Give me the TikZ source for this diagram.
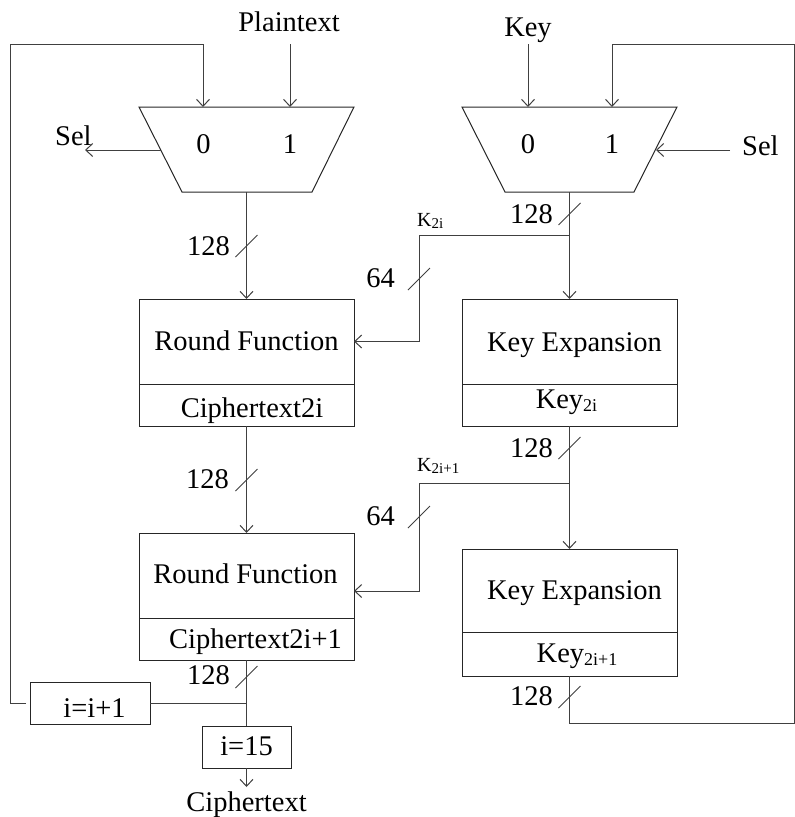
\documentclass[tikz,border=0pt]{standalone}
\usepackage{fontspec}
\setmainfont{Liberation Serif}
\usetikzlibrary{arrows.meta,calc}
\newcommand\bitslash[1]{\draw[slashln] #1 ++(-11,11) -- ++(22,-22);}
\begin{document}
\begin{tikzpicture}[x=1pt,y=-1pt,
  ln/.style={draw=black!75, line width=1pt},
  arr/.style={ln, -{Straight Barb[length=7pt,width=13pt]}},
  blk/.style={draw=black!85, line width=1pt, rectangle, inner sep=0pt, outer sep=0pt},
  txt/.style={font=\fontsize{28.5}{34}\selectfont, inner sep=0pt, anchor=base},
  lbl/.style={font=\fontsize{20}{24}\selectfont, inner sep=0pt, anchor=base west},
  bits/.style={font=\fontsize{28.5}{34}\selectfont, inner sep=0pt, anchor=base east},
  slashln/.style={draw=black!75, line width=0.8pt}]
\useasboundingbox (0,0) rectangle (795,817);

% ---------- multiplexers ----------
\draw[blk] (139,107) -- (354,107) -- (312,192) -- (182,192) -- cycle;
\draw[blk] (462,107) -- (677,107) -- (634,192) -- (505,192) -- cycle;
\coordinate (muxL0) at (203,107);
\coordinate (muxL1) at (290,107);
\coordinate (muxLout) at (246.5,192);
\coordinate (muxLsel) at (160.5,150);
\coordinate (selLtip) at (85,150);
\coordinate (muxR0) at (528,107);
\coordinate (muxR1) at (612,107);
\coordinate (muxRout) at (569.5,192);
\coordinate (muxRsel) at (656,150);
\coordinate (selRstart) at (730,150);
\node[txt] (mL0) at (203.5,153) {0};
\node[txt] (mL1) at (290,153) {1};
\node[txt] (mR0) at (528,153) {0};
\node[txt] (mR1) at (612,153) {1};

% ---------- boxes ----------
\node[blk, minimum width=215pt, minimum height=85pt] (rf1) at (246.5,341.5) {};
\node[blk, minimum width=215pt, minimum height=42pt, anchor=north] (ct1) at (rf1.south) {};
\node[blk, minimum width=215pt, minimum height=85pt] (ke1) at (569.5,341.5) {};
\node[blk, minimum width=215pt, minimum height=42pt, anchor=north] (k1) at (ke1.south) {};
\node[blk, minimum width=215pt, minimum height=85pt] (rf2) at (246.5,575.5) {};
\node[blk, minimum width=215pt, minimum height=42pt, anchor=north] (ct2) at (rf2.south) {};
\node[blk, minimum width=215pt, minimum height=83pt] (ke2) at (569.5,590.5) {};
\node[blk, minimum width=215pt, minimum height=44pt, anchor=north] (k2) at (ke2.south) {};
\node[blk, minimum width=120pt, minimum height=42pt] (iinc) at (90,703) {};
\node[blk, minimum width=89pt, minimum height=42pt] (i15) at (246.5,747) {};

% ---------- box texts ----------
\node[txt] (trf1) at (246.5,350) {Round Function};
\node[txt] (tct1) at (252,417) {Ciphertext2i};
\node[txt] (tke1) at (574.5,351) {Key Expansion};
\node[txt] (tk1) at (566.5,408) {Key\raisebox{-3pt}{\fontsize{18}{20}\selectfont 2i}};
\node[txt] (trf2) at (245.5,583) {Round Function};
\node[txt] (tct2) at (255.5,648) {Ciphertext2i+1};
\node[txt] (tke2) at (574.5,599) {Key Expansion};
\node[txt] (tk2) at (577,662) {Key\raisebox{-3pt}{\fontsize{18}{20}\selectfont 2i+1}};
\node[txt] (tinc) at (94.5,717) {i=i+1};
\node[txt] (ti15) at (246.5,755) {i=15};

% ---------- outer texts ----------
\node[txt] (pt) at (289,31) {Plaintext};
\node[txt] (key) at (528,36) {Key};
\node[txt, anchor=base west] (selL) at (55,145) {Sel};
\node[txt, anchor=base west] (selR) at (742,155) {Sel};
\node[txt] (ctx) at (246.5,811) {Ciphertext};

% ---------- coordinates for connectors ----------
\coordinate (ptstart) at (290,44);
\coordinate (keystart) at (528,44);
\coordinate (br1) at (569.5,235);
\coordinate (c64a) at (419,341.5);
\coordinate (br2) at (569.5,483);
\coordinate (c64b) at (419,591);
\coordinate (br3) at (246.5,703);
\coordinate (lc) at (10,44);
\coordinate (rc) at (794,723);
\coordinate (rt) at (794,44);
\coordinate (ctend) at (246.5,787);

% ---------- connectors ----------
\draw[arr] (ptstart) -- (muxL1);
\draw[arr] (keystart) -- (muxR0);
\draw[arr] (muxLsel) -- (selLtip);
\draw[arr] (selRstart) -- (muxRsel);
\draw[arr] (muxLout) -- (rf1.north);
\draw[arr] (muxRout) -- (ke1.north);
\draw[arr] (br1) -| (c64a) -- (rf1.east);
\draw[arr] (ct1.south) -- (rf2.north);
\draw[arr] (k1.south) -- (ke2.north);
\draw[arr] (br2) -| (c64b) -- (c64b -| rf2.east);
\draw[ln] (ct2.south) -- (i15.north);
\draw[ln] (br3) -- (iinc.east);
\draw[arr] (i15.south) -- (ctend);
\draw[arr, shorten <=4pt] (iinc.west) -| (lc) -| (muxL0);
\draw[arr] (k2.south) |- (rc) -- (rt) -| (muxR1);

% ---------- bus widths ----------
\bitslash{(246.5,246)}
\node[bits] at (230,255) {128};
\bitslash{(569.5,214)}
\node[bits] at (553,223) {128};
\bitslash{(419,279)}
\node[bits] at (395,287) {64};
\node[lbl] at (417,226) {K\raisebox{-2pt}{\fontsize{15}{16}\selectfont 2i}};
\bitslash{(246.5,480)}
\node[bits] at (229,488) {128};
\bitslash{(569.5,448)}
\node[bits] at (553,457) {128};
\bitslash{(419,517)}
\node[bits] at (395,525) {64};
\node[lbl] at (417,471) {K\raisebox{-2pt}{\fontsize{15}{16}\selectfont 2i+1}};
\bitslash{(246.5,677)}
\node[bits] at (230,684) {128};
\bitslash{(569.5,697)}
\node[bits] at (553,705) {128};
\end{tikzpicture}
\end{document}
